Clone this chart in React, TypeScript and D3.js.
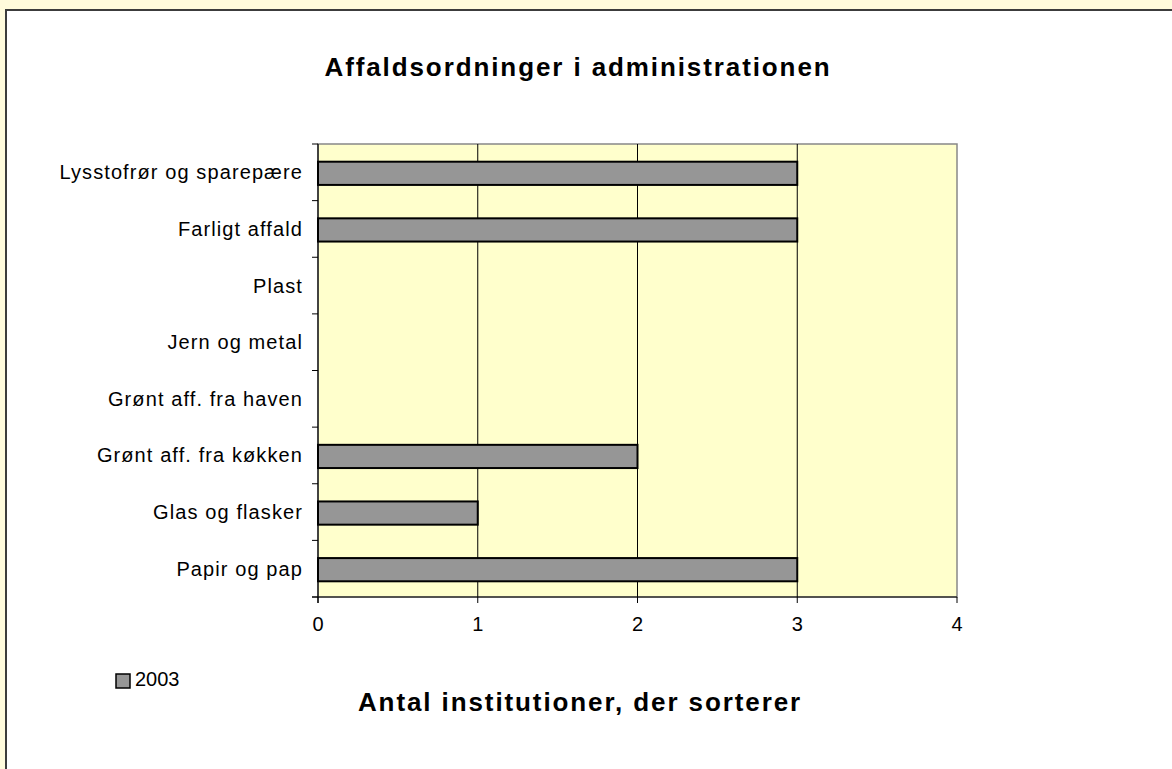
import React from "react";
import * as d3 from "d3";

const categories = [
  "Lysstofrør og sparepære",
  "Farligt affald",
  "Plast",
  "Jern og metal",
  "Grønt aff. fra haven",
  "Grønt aff. fra køkken",
  "Glas og flasker",
  "Papir og pap",
];
const values2003 = [3, 3, 0, 0, 0, 2, 1, 3];
const xTicks = [0, 1, 2, 3, 4];
const seriesName = "2003";
const title = "Affaldsordninger i administrationen";
const xTitle = "Antal institutioner, der sorterer";

export default function App() {
  const W = 1172, H = 769;
  const left = 318, right = 957, top = 144, bottom = 597;
  const x = d3.scaleLinear().domain([0, 4]).range([left, right]);
  const y = d3.scaleBand().domain(categories).range([top, bottom]).paddingInner(0.59).paddingOuter(0.295);
  const band = (bottom - top) / categories.length;
  const font = "Liberation Sans, Arial, sans-serif";
  return (
    <div style={{ position: "fixed", left: 0, top: 0 }}>
      <svg width={W} height={H} style={{ display: "block" }}>
        <rect x={0} y={0} width={W} height={H} fill="#FFFBDC" />
        <rect x={6} y={10} width={W} height={H} fill="#FFFFFF" stroke="#3c3c3c" strokeWidth={2} />
        <text x={578} y={76} textAnchor="middle" fontFamily={font} fontSize={26} fontWeight="bold" letterSpacing={1.9}>{title}</text>
        <rect x={left} y={top} width={right - left} height={bottom - top} fill="#FFFFCC" stroke="#888" strokeWidth={1.5} />
        {xTicks.slice(1, -1).map((t) => (
          <line key={t} x1={x(t)} x2={x(t)} y1={top} y2={bottom} stroke="#000" strokeWidth={1} />
        ))}
        {categories.map((c, i) => {
          const v = values2003[i];
          return v > 0 ? (
            <rect key={c} x={x(0)} y={y(c)! + 1} width={x(v) - x(0)} height={y.bandwidth()} fill="#969696" stroke="#000" strokeWidth={2} />
          ) : null;
        })}
        <line x1={left} x2={left} y1={top} y2={bottom + 6} stroke="#000" strokeWidth={1.2} />
        <line x1={left - 6} x2={right} y1={bottom} y2={bottom} stroke="#000" strokeWidth={1.2} />
        {d3.range(categories.length + 1).map((i) => (
          <line key={"yt" + i} x1={left - 6} x2={left} y1={top + i * band} y2={top + i * band} stroke="#000" strokeWidth={1} />
        ))}
        {xTicks.map((t) => (
          <g key={"xt" + t}>
            <line x1={x(t)} x2={x(t)} y1={bottom} y2={bottom + 6} stroke="#000" strokeWidth={1} />
            <text x={x(t)} y={631} textAnchor="middle" fontFamily={font} fontSize={20}>{t}</text>
          </g>
        ))}
        {categories.map((c) => (
          <text key={"l" + c} x={303} y={y(c)! + y.bandwidth() / 2 + 7} textAnchor="end" fontFamily={font} fontSize={20} letterSpacing={1.1}>{c}</text>
        ))}
        <rect x={116} y={674} width={14} height={14} fill="#969696" stroke="#000" strokeWidth={1.5} />
        <text x={135} y={686} fontFamily={font} fontSize={20}>{seriesName}</text>
        <text x={580} y={711} textAnchor="middle" fontFamily={font} fontSize={26} fontWeight="bold" letterSpacing={1.9}>{xTitle}</text>
      </svg>
    </div>
  );
}
